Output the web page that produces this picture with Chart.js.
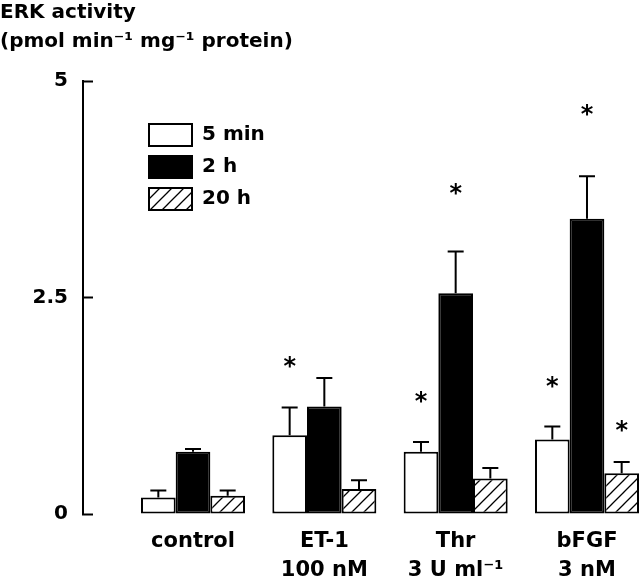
<!DOCTYPE html>
<html>
<head>
<meta charset="utf-8">
<script src="https://cdn.jsdelivr.net/npm/chart.js@4"></script>
<style>
  body { margin: 0; background: #fff; }
  #box { width: 640px; height: 582px; }
</style>
</head>
<body>
<div id="box"><canvas id="erk"></canvas></div>
<script>
var groups = [['control'], ['ET-1', '100 nM'], ['Thr', '3 U ml⁻¹'], ['bFGF', '3 nM']]
var yTicks = [0, 2.5, 5]

var min5 = [0.19, 0.91, 0.72, 0.86]
var h2 = [0.72, 1.24, 2.55, 3.41]
var h20 = [0.21, 0.29, 0.41, 0.47]

// top of the error bars (mean + SE)
var min5Err = [0.27, 1.23, 0.83, 1.01]
var h2Err = [0.75, 1.57, 3.03, 3.90]
var h20Err = [0.27, 0.39, 0.53, 0.60]

// height of the significance asterisks, null = none
var min5Star = [null, 1.76, 1.35, 1.53]
var h2Star = [null, null, 3.75, 4.66]
var h20Star = [null, null, null, 1.02]

function hatch() {
    var c = document.createElement('canvas')
    c.width = 12
    c.height = 12
    var g = c.getContext('2d')
    g.fillStyle = '#fff'
    g.fillRect(0, 0, 12, 12)
    g.strokeStyle = '#000'
    g.lineWidth = 1.3
    g.beginPath()
    g.moveTo(0, 12); g.lineTo(12, 0)
    g.moveTo(-6, 6); g.lineTo(6, -6)
    g.moveTo(6, 18); g.lineTo(18, 6)
    g.stroke()
    return g.createPattern(c, 'repeat')
}

function pts(arr) {
    return arr.map(function (v, i) { return { x: i + 1, y: v } })
}

var errs = [min5Err, h2Err, h20Err]
var stars = [min5Star, h2Star, h20Star]

var errorBars = {
    id: 'errorBars',
    afterDatasetsDraw: function (chart) {
        var ctx = chart.ctx
        var y = chart.scales.y
        ctx.save()
        ctx.strokeStyle = '#000'
        ctx.fillStyle = '#000'
        ctx.lineWidth = 2
        ctx.font = 'bold 24px "DejaVu Sans"'
        ctx.textAlign = 'center'
        ctx.textBaseline = 'alphabetic'
        chart.data.datasets.forEach(function (ds, d) {
            chart.getDatasetMeta(d).data.forEach(function (bar, i) {
                var top = y.getPixelForValue(errs[d][i])
                ctx.beginPath()
                ctx.moveTo(bar.x, bar.y)
                ctx.lineTo(bar.x, top)
                ctx.moveTo(bar.x - 8, top)
                ctx.lineTo(bar.x + 8, top)
                ctx.stroke()
                if (stars[d][i] != null) {
                    ctx.fillText('*', bar.x, y.getPixelForValue(stars[d][i]) + 12)
                }
            })
        })
        ctx.restore()
    }
}

var moveLegend = {
    id: 'moveLegend',
    afterLayout: function (chart) {
        var lg = chart.legend
        lg.left = 139
        lg.top = 114
        lg.bottom = 400
    }
}

Chart.defaults.font.family = '"DejaVu Sans"'
Chart.defaults.font.weight = 'bold'
Chart.defaults.font.size = 20
Chart.defaults.color = '#000'

var ctxErk = document.getElementById('erk')

var chartGraph = new Chart(ctxErk, {
    type: 'bar',
    data: {
        datasets: [{
            label: '5 min',
            data: pts(min5),
            backgroundColor: '#fff',
            borderColor: '#000',
            borderWidth: 2
        }, {
            label: '2 h',
            data: pts(h2),
            backgroundColor: '#000',
            borderColor: '#000',
            borderWidth: 2
        }, {
            label: '20 h',
            data: pts(h20),
            backgroundColor: hatch(),
            borderColor: '#000',
            borderWidth: 2
        }]
    },
    options: {
        responsive: true,
        maintainAspectRatio: false,
        animation: false,
        layout: { padding: 0 },
        datasets: {
            bar: { categoryPercentage: 0.792, barPercentage: 1, borderSkipped: false }
        },
        scales: {
            x: {
                type: 'linear',
                offset: false,
                min: 0.1624,
                max: 4.4036,
                grid: { display: false, offset: false },
                border: { display: false },
                afterBuildTicks: function (scale) {
                    scale.ticks = groups.map(function (g, i) { return { value: i + 1 } })
                },
                afterFit: function (scale) { scale.height = 68 },
                ticks: {
                    autoSkip: false,
                    maxRotation: 0,
                    padding: 5,
                    font: { size: 21, lineHeight: 1.38 },
                    callback: function (v) { return groups[v - 1] || '' }
                }
            },
            y: {
                min: 0,
                max: 5,
                afterBuildTicks: function (scale) {
                    scale.ticks = yTicks.map(function (v) { return { value: v } })
                },
                afterFit: function (scale) { scale.width = 83 },
                border: { color: '#000', width: 2 },
                grid: { drawOnChartArea: false, tickLength: -10, tickColor: '#000', tickWidth: 2 },
                ticks: { padding: 25 }
            }
        },
        plugins: {
            title: {
                display: true,
                align: 'start',
                text: ['ERK activity', '(pmol min⁻¹ mg⁻¹ protein)'],
                font: { size: 20, weight: 'bold', lineHeight: 1.45 },
                padding: { top: -2, bottom: 25 }
            },
            legend: {
                position: 'chartArea',
                align: 'start',
                labels: { boxWidth: 43, boxHeight: 22, padding: 10, color: '#000' }
            },
            tooltip: { enabled: false }
        }
    },
    plugins: [errorBars, moveLegend]
})
</script>
</body>
</html>
